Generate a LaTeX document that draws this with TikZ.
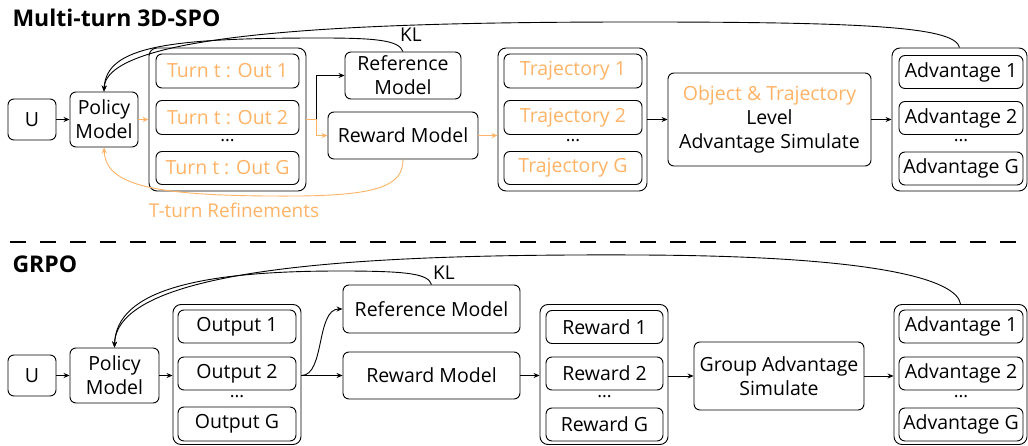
\documentclass[tikz,border=0pt]{standalone}
\usepackage{fontspec}
\setmainfont{Open Sans}
\usetikzlibrary{arrows.meta}
\definecolor{orng}{RGB}{255,179,102}
\begin{document}
\begin{tikzpicture}[x=1pt,y=-1pt,
  bx/.style={draw, rounded corners=6pt, line width=0.9pt, inner sep=0pt, align=center, font=\fontsize{19.5}{24}\selectfont},
  outer/.style={draw, rounded corners=8pt, line width=0.9pt, inner sep=0pt},
  ob/.style={bx, text=orng},
  arr/.style={-{Stealth[length=6pt,width=5pt]}, line width=0.9pt},
  oarr/.style={arr, draw=orng},
  ttl/.style={font=\fontsize{23}{26}\selectfont\bfseries, anchor=base west},
  dots/.style={font=\fontsize{18}{20}\selectfont},
  lbl/.style={font=\fontsize{19}{22}\selectfont},
]
\useasboundingbox (0,0) rectangle (1028,446);

% ---------------- Top: Multi-turn 3D-SPO ----------------
\node[ttl] (t1) at (9,27) {Multi-turn 3D-SPO};

\node[bx, minimum width=48, minimum height=41] (u1) at (32,119.5) {U};
\node[bx, minimum width=68, minimum height=55] (p1) at (104,119.5) {Policy\\Model};

\node[outer, minimum width=157, minimum height=143] (o1) at (227.5,119.5) {};
\node[ob, minimum width=143, minimum height=34] (o1a) at (227.5,71) {Turn t : Out 1};
\node[ob, minimum width=143, minimum height=34] (o1b) at (227.5,117.5) {Turn t : Out 2};
\node[dots] (o1d) at (227.5,141) {...};
\node[ob, minimum width=143, minimum height=33] (o1g) at (227.5,168) {Turn t : Out G};

\node[bx, minimum width=116, minimum height=47] (ref1) at (403,75.5) {Reference\\Model};
\node[bx, minimum width=150, minimum height=47] (rew1) at (403,135.5) {Reward Model};

\node[outer, minimum width=149, minimum height=143] (tr1) at (572.5,119.5) {};
\node[ob, minimum width=138, minimum height=34] (tr1a) at (573,71) {Trajectory 1};
\node[ob, minimum width=138, minimum height=34] (tr1b) at (573,117.5) {Trajectory 2};
\node[dots] (tr1d) at (573,141) {...};
\node[ob, minimum width=138, minimum height=33] (tr1g) at (573,168) {Trajectory G};

\node[bx, minimum width=203, minimum height=93] (obj) at (769.5,119.5) {{\color{orng}Object \& Trajectory}\\Level\\Advantage Simulate};

\node[outer, minimum width=135, minimum height=143] (ad1) at (959.5,119.5) {};
\node[bx, minimum width=124, minimum height=33] (ad1a) at (961,72) {Advantage 1};
\node[bx, minimum width=124, minimum height=33] (ad1b) at (961,118) {Advantage 2};
\node[dots] (ad1d) at (961,141) {...};
\node[bx, minimum width=124, minimum height=33] (ad1g) at (961,168.5) {Advantage G};

\coordinate (sp1) at (316,119.5);
\draw[arr] (u1) -- (p1);
\draw[oarr] (p1.east) -- (o1.west);
\draw[line width=0.9pt, draw=orng] (o1.east) -- (sp1);
\draw[oarr] (sp1) |- (rew1.west);
\draw[arr] (sp1) |- (ref1.west);
\draw[oarr] (rew1.east) -- (tr1.west |- rew1.east);
\draw[arr] (tr1.east) -- (obj.west);
\draw[arr] (obj.east) -- (ad1.west);

\draw[arr] (ad1.north) .. controls (955,28) and (880,22) .. (640,22)
  .. controls (400,22) and (106,28) .. (p1.north);
\draw[arr] (ref1.north) .. controls (399,40) and (375,38) .. (320,38)
  .. controls (170,38) and (106,46) .. (p1.north);
\node[lbl] (kl1) at (411,35) {KL};

\draw[oarr] (rew1.south) .. controls (403,185) and (380,195) .. (300,196)
  .. controls (150,197) and (106,185) .. (p1.south);
\node[lbl, text=orng] (tt) at (234,210) {T-turn Refinements};

% ---------------- Separator ----------------
\coordinate (dl) at (10,242);
\coordinate (dr) at (1028,242);
\draw[line width=2.2pt, dash pattern=on 16pt off 14pt] (dl) -- (dr);

% ---------------- Bottom: GRPO ----------------
\node[ttl] (t2) at (9,273) {GRPO};

\node[bx, minimum width=48, minimum height=41] (u2) at (32,375.5) {U};
\node[bx, minimum width=89, minimum height=55] (p2) at (114.5,375.5) {Policy\\Model};

\node[outer, minimum width=128, minimum height=140] (o2) at (237,374.5) {};
\node[bx, minimum width=118, minimum height=33] (o2a) at (237,326.5) {Output 1};
\node[bx, minimum width=118, minimum height=33] (o2b) at (237,373.5) {Output 2};
\node[dots] (o2d) at (237,397) {...};
\node[bx, minimum width=118, minimum height=34] (o2g) at (237,424) {Output G};

\node[bx, minimum width=177, minimum height=48] (ref2) at (431.5,309) {Reference Model};
\node[bx, minimum width=177, minimum height=47] (rew2) at (431.5,375.5) {Reward Model};

\node[outer, minimum width=128, minimum height=140] (rw2) at (604,374.5) {};
\node[bx, minimum width=117, minimum height=33] (rw2a) at (604.5,327) {Reward 1};
\node[bx, minimum width=117, minimum height=33] (rw2b) at (604.5,373.5) {Reward 2};
\node[dots] (rw2d) at (604.5,397) {...};
\node[bx, minimum width=117, minimum height=33] (rw2g) at (604.5,424.5) {Reward G};

\node[bx, minimum width=170, minimum height=68] (ga) at (779,376) {Group Advantage\\Simulate};

\node[outer, minimum width=133, minimum height=140] (ad2) at (960.5,374.5) {};
\node[bx, minimum width=124, minimum height=33] (ad2a) at (961,326.5) {Advantage 1};
\node[bx, minimum width=124, minimum height=33] (ad2b) at (961,373.5) {Advantage 2};
\node[dots] (ad2d) at (961,397) {...};
\node[bx, minimum width=124, minimum height=33] (ad2g) at (961,424.5) {Advantage G};

\draw[arr] (u2) -- (p2);
\draw[arr] (p2.east) -- (o2.west |- p2.east);
\draw[arr] (o2.east |- rew2.west) -- (rew2.west);
\draw[arr] (o2.east |- rew2.west) .. controls (325,375.5) and (316,309) .. (ref2.west);
\draw[arr] (rew2.east) -- (rw2.west |- rew2.east);
\draw[arr] (rw2.east |- ga.west) -- (ga.west);
\draw[arr] (ga.east) -- (ad2.west |- ga.east);

\draw[arr] (ad2.north) .. controls (957,280) and (880,256) .. (640,255)
  .. controls (400,254) and (116,262) .. (p2.north);
\draw[arr] (ref2.north) .. controls (428,274) and (410,271) .. (340,271)
  .. controls (200,271) and (116,290) .. (p2.north);
\node[lbl] (kl2) at (444,273) {KL};
\end{tikzpicture}
\end{document}
